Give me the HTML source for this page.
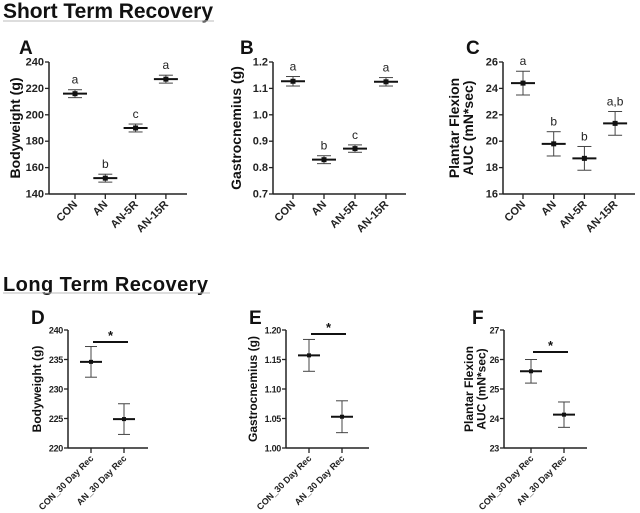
<!DOCTYPE html>
<html><head><meta charset="utf-8"><style>
html,body{margin:0;padding:0;background:#fff;overflow:hidden;}
svg{display:block;font-family:"Liberation Sans",Arial,sans-serif;}
</style></head><body>
<svg id="fig" width="640" height="513" viewBox="0 0 640 513">
<text x="3" y="18" font-size="21" font-weight="bold" fill="#111" textLength="210">Short Term Recovery</text>
<line x1="3" y1="21" x2="214" y2="21" stroke="#bbb" stroke-width="1"/>
<text x="3" y="291" font-size="20" font-weight="bold" fill="#111" textLength="205">Long Term Recovery</text>
<line x1="3" y1="293" x2="210" y2="293" stroke="#bbb" stroke-width="1"/>
</svg>
<script>
// Panel A
const catsA = ["CON","AN","AN-5R","AN-15R"];
const meanA = [216,152,190,227];
const errA = [3,3,3,3];
const letA = ["a","b","c","a"];
const ticksA = [140,160,180,200,220,240];
// Panel B
const catsB = ["CON","AN","AN-5R","AN-15R"];
const meanB = [1.127,0.83,0.872,1.125];
const errB = [0.018,0.015,0.014,0.016];
const letB = ["a","b","c","a"];
const ticksB = [0.7,0.8,0.9,1.0,1.1,1.2];
// Panel C
const catsC = ["CON","AN","AN-5R","AN-15R"];
const meanC = [24.4,19.8,18.7,21.35];
const errC = [0.9,0.92,0.9,0.9];
const letC = ["a","b","b","a,b"];
const ticksC = [16,18,20,22,24,26];
// Panel D
const catsD = ["CON_30 Day Rec","AN_30 Day Rec"];
const meanD = [234.6,224.9];
const errD = [2.6,2.6];
const ticksD = [220,225,230,235,240];
// Panel E
const catsE = ["CON_30 Day Rec","AN_30 Day Rec"];
const meanE = [1.157,1.053];
const errE = [0.027,0.027];
const ticksE = [1.00,1.05,1.10,1.15,1.20];
// Panel F
const catsF = ["CON_30 Day Rec","AN_30 Day Rec"];
const meanF = [25.6,24.13];
const errF = [0.4,0.43];
const ticksF = [23,24,25,26,27];

const NS="http://www.w3.org/2000/svg";
const svg=document.getElementById('fig');
function mk(tag,attrs,parent){const e=document.createElementNS(NS,tag);for(const k in attrs)e.setAttribute(k,attrs[k]);(parent||svg).appendChild(e);return e;}

function panel(o){
  const g=mk('g',{});
  
  
  const y0=o.ticks[0],y1=o.ticks[o.ticks.length-1];
  const ys=v=>o.bot-(v-y0)/(y1-y0)*(o.bot-o.top);
  const xs=i=>o.x0+i*o.dx;
  const lt=mk('text',{x:o.lx,y:o.ly,'font-size':19,'font-weight':'bold',fill:'#111'},g);lt.textContent=o.id;
  
  
  const ya=mk('line',{x1:o.ax,y1:o.top,x2:o.ax,y2:o.bot,stroke:'#222','stroke-width':1.5},g);
  
  
  const xa=mk('line',{x1:o.ax,y1:o.bot,x2:o.xend,y2:o.bot,stroke:'#222','stroke-width':1.5},g);
  
  
  const fs=o.small?9:11;
  o.ticks.forEach(t=>{
    mk('line',{x1:o.ax-4,y1:ys(t),x2:o.ax,y2:ys(t),stroke:'#222','stroke-width':1.3},g);
    const tx=mk('text',{x:o.ax-5,y:ys(t)+3.5,'font-size':fs,'font-weight':'bold','text-anchor':'end',fill:'#222','letter-spacing':o.small?-0.3:0},g);
    tx.textContent=o.fmt(t);
    
    
  });
  const tfs=o.small?12:14, lh=o.small?12.5:14;
  const yt=mk('text',{'font-size':tfs,'font-weight':'bold',fill:'#111','text-anchor':'middle',transform:`translate(${o.tx},${(o.top+o.bot)/2}) rotate(-90)`},g);
  o.title.forEach((s,i)=>{const ts=mk('tspan',{x:0,dy:i==0?(o.title.length>1?-3:0):lh},yt);ts.textContent=s;});
  
  
  o.cats.forEach((c,i)=>{
    const x=xs(i);
    mk('line',{x1:x,y1:o.bot,x2:x,y2:o.bot+5,stroke:'#222','stroke-width':1.3},g);
    const cl=mk('text',{'font-size':o.small?9:11,'font-weight':'bold',fill:'#222','text-anchor':'end',transform:`translate(${x+3},${o.bot+11}) rotate(-45)`},g);
    cl.textContent=c;
    
    
    const m=o.mean[i],e=o.err[i];
    const eb=mk('g',{},g);
    
    
    const cw=o.small?6:7, mw=o.small?11:12;
    mk('line',{x1:x,y1:ys(m+e),x2:x,y2:ys(m-e),stroke:'#444','stroke-width':1},eb);
    mk('line',{x1:x-cw,y1:ys(m+e),x2:x+cw,y2:ys(m+e),stroke:'#444','stroke-width':1},eb);
    mk('line',{x1:x-cw,y1:ys(m-e),x2:x+cw,y2:ys(m-e),stroke:'#444','stroke-width':1},eb);
    mk('line',{x1:x-mw,y1:ys(m),x2:x+mw,y2:ys(m),stroke:'#111','stroke-width':2},eb);
    const ps=o.small?4:5;
    const pt=mk('rect',{x:x-ps/2,y:ys(m)-ps/2,width:ps,height:ps,fill:'#111'},g);
    
    
    if(o.letters){
      const l=mk('text',{x:x,y:ys(m+e)-6,'font-size':12,fill:'#222','text-anchor':'middle'},g);
      l.textContent=o.letters[i];
      
      
    }
  });
  if(o.sigY){
    const sb=mk('line',{x1:xs(0)+2,y1:o.sigY,x2:xs(1)+4,y2:o.sigY,stroke:'#111','stroke-width':2},g);
    
    
    const st=mk('text',{x:(xs(0)+xs(1))/2+3,y:o.sigY-2,'font-size':13,'font-weight':'bold','text-anchor':'middle',fill:'#111'},g);
    st.textContent='*';
    
    
  }
}
const f0=t=>String(t), f1=t=>t.toFixed(1), f2=t=>t.toFixed(2);
panel({id:'A',lx:19,ly:54,ax:49,top:62,bot:194,xend:187,x0:75,dx:30.3,ticks:ticksA,fmt:f0,cats:catsA,mean:meanA,err:errA,letters:letA,tx:20,title:['Bodyweight (g)']});
panel({id:'B',lx:240,ly:54,ax:273,top:62,bot:194,xend:406,x0:293,dx:31,ticks:ticksB,fmt:f1,cats:catsB,mean:meanB,err:errB,letters:letB,tx:241,title:['Gastrocnemius (g)']});
panel({id:'C',lx:466,ly:54,ax:503,top:62,bot:194,xend:635,x0:523,dx:30.7,ticks:ticksC,fmt:f0,cats:catsC,mean:meanC,err:errC,letters:letC,tx:462,title:['Plantar Flexion','AUC (mN*sec)']});
panel({id:'D',small:true,lx:31,ly:324,ax:68,top:330,bot:448,xend:148,x0:91,dx:33,ticks:ticksD,fmt:f0,cats:catsD,mean:meanD,err:errD,tx:41,title:['Bodyweight (g)'],sigY:342});
panel({id:'E',small:true,lx:249,ly:324,ax:286,top:330,bot:448,xend:369,x0:309,dx:33,ticks:ticksE,fmt:f2,cats:catsE,mean:meanE,err:errE,tx:257,title:['Gastrocnemius (g)'],sigY:334});
panel({id:'F',small:true,lx:472,ly:324,ax:504,top:330,bot:448,xend:587,x0:531,dx:33,ticks:ticksF,fmt:f0,cats:catsF,mean:meanF,err:errF,tx:476,title:['Plantar Flexion','AUC (mN*sec)'],sigY:352});
</script>
</body></html>
